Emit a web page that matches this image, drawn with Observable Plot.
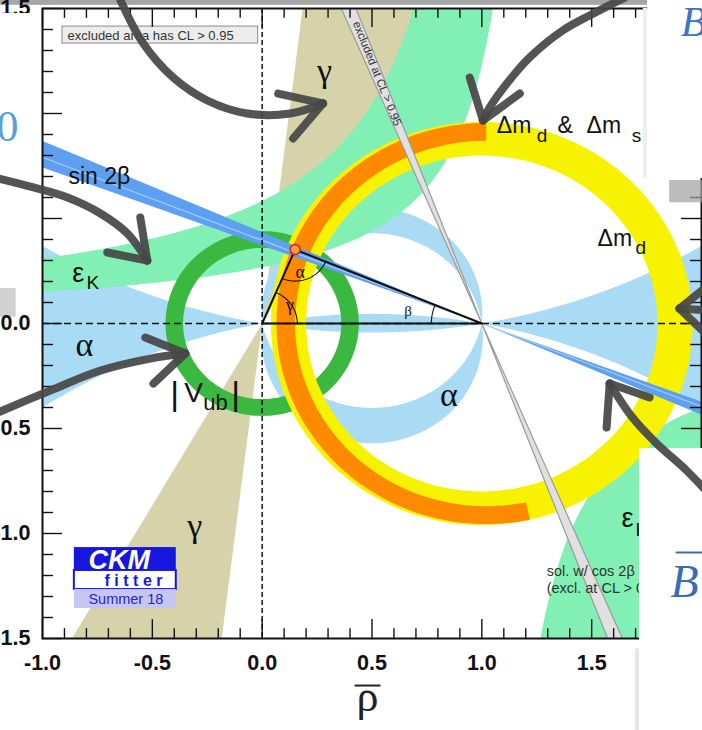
<!DOCTYPE html>
<html>
<head>
<meta charset="utf-8">
<script src="https://cdn.jsdelivr.net/npm/d3@7"></script>
<script src="https://cdn.jsdelivr.net/npm/@observablehq/plot@0.6"></script>
<style>
  body { margin: 0; background: #fff; }
  #chart { width: 702px; height: 730px; overflow: hidden; }
</style>
</head>
<body>
<div id="chart"></div>
<script>
// ---------- axes ----------
const xMajor = [-1.0, -0.5, 0.0, 0.5, 1.0, 1.5, 2.0];
const yMajor = [-1.5, -1.0, -0.5, 0.0, 0.5, 1.0, 1.5];
const xMinor = d3.range(-10, 21).map(i => i / 10).filter(v => !xMajor.includes(v));
const yMinor = d3.range(-15, 16).map(i => i / 10).filter(v => !yMajor.includes(v));

// ---------- unitarity triangle ----------
const apex = [0.15, 0.352];          // global fit (rho-bar, eta-bar)
const baseCorners = [[0, 0], [1, 0]];

// ---------- constraints (95% CL regions) ----------
const vubRing = {cx: 0, cy: 0, rIn: 0.36, rOut: 0.44};             // |Vub|
const dmdRing = {cx: 1.0, cy: 0, rIn: 0.80, rOut: 0.96};           // Δmd
const dmsArc = {cx: 1.02, cy: 0, rIn: 0.87, rOut: 0.955};          // Δmd & Δms
const dmsAngles = [90, 282];
const gammaDeg = [60, 83];                 // γ, double cone through the origin
const betaDeg = [20.4, 23.5];              // sin 2β, double cone through (1,0)
const betaMid = 21.6;
const betaAltDeg = [110.9, 113.1];         // cos 2β < 0 solution (excluded)
const alphaUpper = [0.048, -0.076];        // α: circles through (0,0),(1,0); centre height
const alphaLower = [-0.066, 0.11];
const alphaAxis = {above: 2.89, below: -2.7};
const epsKUpper = [{rho0: 1.278, k: 0.342}, {rho0: 1.13, k: 0.66}];  // εK: η(ρ0 − ρ) = k
const epsKLower = [{rho0: 1.0, k: 0.4}, {rho0: 1.0, k: 1.2}];

const colors = {
  gamma: "#d6d3aa", alpha: "#a9dbf5", epsK: "#82f0b5", vub: "#3bb83f",
  dmd: "#f7f300", dms: "#ff8a00", sin2b: "#5d9ff0", sin2bLine: "#a2ccfb",
  cos2b: "#e0e0e0", cos2bEdge: "#9a9a9a"
};

// ---------- labels ----------
const sansLabels = [
  {t: "sin 2β", x: -0.882, y: 0.662, s: 23, c: "#111"},
  {t: "Δm", x: 1.068, y: 0.905, s: 23, c: "#111"},
  {t: "d", x: 1.25, y: 0.862, s: 19, c: "#111"},
  {t: "&", x: 1.345, y: 0.905, s: 23, c: "#111"},
  {t: "Δm", x: 1.477, y: 0.905, s: 23, c: "#111"},
  {t: "s", x: 1.682, y: 0.862, s: 19, c: "#111"},
  {t: "Δm", x: 1.527, y: 0.367, s: 23, c: "#111"},
  {t: "d", x: 1.70, y: 0.329, s: 19, c: "#111"},
  {t: "ε", x: -0.864, y: 0.20, s: 27, c: "#111"},
  {t: "K", x: -0.80, y: 0.162, s: 19, c: "#111"},
  {t: "ε", x: 1.636, y: -0.971, s: 27, c: "#111"},
  {t: "K", x: 1.70, y: -1.01, s: 19, c: "#111"},
  {t: "|", x: -0.418, y: -0.39, s: 34, c: "#111"},
  {t: "V", x: -0.355, y: -0.376, s: 28, c: "#111"},
  {t: "ub", x: -0.268, y: -0.414, s: 22, c: "#111"},
  {t: "|", x: -0.141, y: -0.39, s: 34, c: "#111"},
  {t: "sol. w/ cos 2β < 0", x: 1.295, y: -1.2, s: 14.5, c: "#333"},
  {t: "(excl. at CL > 0.95)", x: 1.295, y: -1.281, s: 14.5, c: "#333"},
  {t: "excluded area has CL > 0.95", x: -0.886, y: 1.352, s: 13, c: "#333"}
];
const greekLabels = [
  {t: "γ", x: 0.25, y: 1.152}, {t: "γ", x: -0.341, y: -1.019},
  {t: "α", x: -0.85, y: -0.157}, {t: "α", x: 0.809, y: -0.395}
];
const angleLabels = [
  {t: "α", x: 0.173, y: 0.243, s: 18}, {t: "γ", x: 0.127, y: 0.086, s: 18},
  {t: "β", x: 0.664, y: 0.057, s: 15}
];
const legendBox = {x1: -0.909, x2: -0.018, y1: 1.333, y2: 1.414};
const bandNote = {t: "excluded at CL > 0.95", x: 0.523, y: 1.19};

// CKMfitter badge
const badge = {x1: -0.855, x2: -0.391, top: -1.067, mid1: -1.176, mid2: -1.267, bottom: -1.357};

// hand-drawn pointers and pasted sheets around the figure
const arrowShafts = [
  [[-0.655, 1.562], [-0.541, 1.333], [-0.405, 1.171], [-0.25, 1.062], [-0.068, 1.0], [0.127, 1.0], [0.277, 1.048]],
  [[1.65, 1.552], [1.491, 1.467], [1.368, 1.395], [1.218, 1.267], [1.114, 1.143], [1.036, 1.029], [1.005, 0.967]],
  [[-1.236, 0.70], [-1.041, 0.648], [-0.886, 0.60], [-0.736, 0.524], [-0.614, 0.429], [-0.523, 0.30]],
  [[-1.236, -0.438], [-0.964, -0.319], [-0.736, -0.224], [-0.509, -0.167], [-0.35, -0.143]],
  [[2.04, 0.062], [1.9, 0.071]],
  [[1.582, -0.286], [1.686, -0.448], [1.795, -0.571], [1.932, -0.70], [2.04, -0.819]]
];
const arrowBarbs = [
  [[0.073, 1.095], [0.277, 1.048]], [[0.141, 0.881], [0.277, 1.048]],
  [[0.945, 1.171], [1.005, 0.967]], [[1.173, 1.095], [1.005, 0.967]],
  [[-0.705, 0.338], [-0.523, 0.30]], [[-0.555, 0.505], [-0.523, 0.30]],
  [[-0.532, -0.067], [-0.35, -0.143]], [[-0.495, -0.286], [-0.35, -0.143]],
  [[2.014, 0.167], [1.9, 0.071]], [[2.014, -0.043], [1.9, 0.071]],
  [[1.568, -0.495], [1.582, -0.286]], [[1.764, -0.352], [1.582, -0.286]]
];
const sheets = [
  {x1: -1.25, x2: -1.014, y1: 0.167, y2: 1.476},
  {x1: 1.755, x2: 2.1, y1: 0.69, y2: 1.6},
  {x1: 1.718, x2: 2.1, y1: -2.0, y2: -0.595}
];
const shadows = [
  {x1: -1.25, x2: 1.755, y1: 1.515, y2: 1.6, c: "#4d4d4d", o: 0.5},
  {x1: 1.855, x2: 2.1, y1: 0.575, y2: 0.681, c: "#a0a0a0", o: 0.7},
  {x1: -1.25, x2: -1.12, y1: 0.03, y2: 0.167, c: "#c6c6c6", o: 0.8},
  {x1: 1.80, x2: 2.1, y1: -1.96, y2: -1.89, c: "#8a8a8a", o: 0.8},
  {x1: 1.70, x2: 1.718, y1: -2.0, y2: -1.55, c: "#dedede", o: 0.8},
  {x1: 1.735, x2: 1.755, y1: 0.69, y2: 1.5, c: "#efefef", o: 1}
];
const slideText = [
  {t: "0", x: -1.109, y: 0.871, s: 44, st: "normal", c: "#5b9fd6"},
  {t: "B", x: 1.905, y: 1.371, s: 42, st: "italic", c: "#3d74c4"},
  {t: "B", x: 1.859, y: -1.30, s: 46, st: "italic", c: "#3a6cb5"}
];
const overlines = [
  {x1: 0.423, x2: 0.541, y: -1.724, c: "#222"},
  {x1: 1.885, x2: 2.05, y: -1.09, c: "#3a6cb5"}
];

// ---------- geometry ----------
const toRad = Math.PI / 180;
function arc(cx, cy, r, a0, a1, n = 120) {
  return d3.range(n + 1).map(i => {
    const a = (a0 + (a1 - a0) * i / n) * toRad;
    return [cx + r * Math.cos(a), cy + r * Math.sin(a)];
  });
}
const ring = ({cx, cy, rIn, rOut}, a0 = 0, a1 = 360) =>
  [...arc(cx, cy, rOut, a0, a1, 180), ...arc(cx, cy, rIn, a1, a0, 180)];
const wedge = (cx, cy, a0, a1, R = 4) => [[cx, cy], ...arc(cx, cy, R, a0, a1, 24)];
const ray = (cx, cy, a, R = 4) => [[cx, cy], [cx + R * Math.cos(a * toRad), cy + R * Math.sin(a * toRad)]];

// circles through (0,0) and (1,0), centred at (0.5, c)
const chord = c => ({cx: 0.5, cy: c, r: Math.hypot(0.5, c)});
const ang = (C, [x, y]) => Math.atan2(y - C.cy, x - C.cx) / toRad;
const chordArc = (c, a0, a1) => { const C = chord(c); return arc(C.cx, C.cy, C.r, a0, a1, 200); };
function overArc(c) {            // (1,0) over the axis to (0,0)
  const C = chord(c); let a1 = ang(C, [1, 0]), a0 = ang(C, [0, 0]);
  if (a0 < a1) a0 += 360;
  return chordArc(c, a1, a0);
}
function underArc(c) {           // (0,0) under the axis to (1,0)
  const C = chord(c); let a0 = ang(C, [0, 0]), a1 = ang(C, [1, 0]);
  if (a1 < a0) a1 += 360;
  return chordArc(c, a0, a1);
}
// hyperbola η(ρ0 − ρ) = k, sampled evenly in log|η|
function hyper({rho0, k}, etaFrom, etaTo, n = 300) {
  return d3.range(n + 1).map(i => {
    const e = etaFrom * Math.pow(etaTo / etaFrom, i / n);
    return [rho0 - k / e, e];
  });
}
const upperBranch = (p) => hyper(p, p.k / (p.rho0 + 1.1), 1.62);
const lowerBranch = (p) => hyper(p, -p.k / (2.1 - p.rho0), -1.62);

const A = chord(alphaAxis.above), B = chord(alphaAxis.below);
const alphaShapes = [
  [...overArc(alphaUpper[0]), ...overArc(alphaUpper[1]).reverse()],
  [...underArc(alphaLower[0]), ...underArc(alphaLower[1]).reverse()],
  [...overArc(alphaAxis.below), ...underArc(alphaAxis.above)],
  [...chordArc(alphaAxis.above, ang(A, [0, 0]), ang(A, [0, 0]) - 30),
   ...chordArc(alphaAxis.below, ang(B, [0, 0]) + 30, ang(B, [0, 0]))],
  [...chordArc(alphaAxis.above, ang(A, [1, 0]), ang(A, [1, 0]) + 32),
   ...chordArc(alphaAxis.below, ang(B, [1, 0]) - 32, ang(B, [1, 0]))]
];
const epsShapes = [
  [...upperBranch(epsKUpper[0]), ...upperBranch(epsKUpper[1]).reverse()],
  [...lowerBranch(epsKLower[0]), ...lowerBranch(epsKLower[1]).reverse()]
];
const gammaShapes = [
  wedge(0, 0, gammaDeg[0], gammaDeg[1]),
  wedge(0, 0, 180 + gammaDeg[0], 180 + gammaDeg[1])
];
const sin2bShapes = [
  wedge(1, 0, 180 - betaDeg[1], 180 - betaDeg[0]),
  wedge(1, 0, -betaDeg[1], -betaDeg[0])
];
const cos2bShapes = [
  wedge(1, 0, betaAltDeg[0], betaAltDeg[1]),
  wedge(1, 0, betaAltDeg[0] - 180, betaAltDeg[1] - 180)
];

const toRows = shapes => shapes.flatMap((pts, id) => pts.map(([x, y]) => ({x, y, id})));
const region = (shapes, fill, extra = {}) => Plot.line(toRows(shapes), {
  x: "x", y: "y", z: "id", fill, stroke: "none", curve: "linear-closed", clip: true, ...extra
});
const polyline = (shapes, stroke, width, extra = {}) => Plot.line(toRows(shapes), {
  x: "x", y: "y", z: "id", stroke, strokeWidth: width, clip: true, ...extra
});

// triangle angle markers
const dirTo = (p, q) => Math.atan2(q[1] - p[1], q[0] - p[0]) / toRad;
const angleArcs = [
  arc(apex[0], apex[1], 0.15, dirTo(apex, [0, 0]), dirTo(apex, [1, 0]), 40),
  arc(0, 0, 0.16, 0, dirTo([0, 0], apex), 40),
  arc(1, 0, 0.23, dirTo([1, 0], apex), 180, 20)
];

const sans = "Liberation Sans, Arial, Helvetica, sans-serif";
const serif = "Liberation Serif, Times New Roman, serif";

const tickStyle = {stroke: "#111", strokeWidth: 1.4};
const chart = Plot.plot({
  width: 702, height: 730,
  marginLeft: 42, marginRight: 1, marginTop: 8, marginBottom: 92,
  x: {domain: [-1, 2], axis: null},
  y: {domain: [-1.5, 1.5], axis: null},
  style: {background: "#fff"},
  marks: [
    region(gammaShapes, colors.gamma),
    region(alphaShapes, colors.alpha),
    region(epsShapes, colors.epsK),
    region([ring(vubRing)], colors.vub),
    region([ring(dmdRing)], colors.dmd),
    region([ring(dmsArc, dmsAngles[0], dmsAngles[1])], colors.dms),
    region(sin2bShapes, colors.sin2b),
    polyline([ray(1, 0, 180 - betaMid), ray(1, 0, -betaMid)], colors.sin2bLine, 1.2),
    region(cos2bShapes, colors.cos2b, {stroke: colors.cos2bEdge, strokeWidth: 1.2}),
    Plot.text([bandNote], {x: "x", y: "y", text: "t", rotate: 68, fontSize: 11.5,
      fontFamily: sans, fill: "#333"}),

    // reference axes
    Plot.ruleX([0], {stroke: "#111", strokeWidth: 1.5, strokeDasharray: "5,3"}),
    Plot.ruleY([0], {stroke: "#111", strokeWidth: 1.5, strokeDasharray: "7,4"}),

    // unitarity triangle
    Plot.line([baseCorners[0], apex, baseCorners[1], baseCorners[0]], {stroke: "#111", strokeWidth: 2}),
    polyline(angleArcs, "#111", 1.1),
    Plot.dot([apex], {x: d => d[0], y: d => d[1], r: 5, fill: "#ff9a3a", stroke: "#d42010", strokeWidth: 1.5}),
    Plot.text(angleLabels, {x: "x", y: "y", text: "t", fontSize: "s", fontFamily: serif, fill: "#111"}),

    // legend box
    Plot.rect([legendBox], {x1: "x1", x2: "x2", y1: "y1", y2: "y2", fill: "#ececec", stroke: "#8a8a8a", strokeWidth: 1}),

    // labels
    Plot.text(sansLabels, {x: "x", y: "y", text: "t", fontSize: "s", fill: "c",
      textAnchor: "start", lineAnchor: "bottom", fontFamily: sans}),
    Plot.text(greekLabels, {x: "x", y: "y", text: "t", fontSize: 34, fill: "#111",
      textAnchor: "start", lineAnchor: "bottom", fontFamily: serif}),

    // badge
    Plot.rect([badge], {x1: "x1", x2: "x2", y1: "mid1", y2: "top", fill: "#1616de"}),
    Plot.rect([badge], {x1: "x1", x2: "x2", y1: "mid2", y2: "mid1", fill: "#fff", stroke: "#1616de", strokeWidth: 2}),
    Plot.rect([badge], {x1: "x1", x2: "x2", y1: "bottom", y2: "mid2", fill: "#c6c6f2"}),
    Plot.text([{t: "CKM", x: -0.791, y: -1.171}], {x: "x", y: "y", text: "t", fontSize: 27,
      fontWeight: "bold", fontStyle: "italic", fill: "#fff", textAnchor: "start", lineAnchor: "bottom", fontFamily: sans}),
    Plot.text([{t: "fitter", x: -0.718, y: -1.252}], {x: "x", y: "y", text: "t", fontSize: 16,
      fontWeight: "bold", fill: "#1616de", textAnchor: "start", lineAnchor: "bottom", fontFamily: sans}),
    Plot.text([{t: "Summer 18", x: -0.791, y: -1.338}], {x: "x", y: "y", text: "t", fontSize: 14.5,
      fill: "#2626c6", textAnchor: "start", lineAnchor: "bottom", fontFamily: sans}),

    // frame and inward ticks
    Plot.ruleX(xMajor, {x: d => d, y1: -1.5, y2: -1.41, ...tickStyle}),
    Plot.ruleX(xMinor, {x: d => d, y1: -1.5, y2: -1.453, ...tickStyle}),
    Plot.ruleX(xMajor, {x: d => d, y1: 1.5, y2: 1.41, ...tickStyle}),
    Plot.ruleX(xMinor, {x: d => d, y1: 1.5, y2: 1.453, ...tickStyle}),
    Plot.ruleY(yMajor, {y: d => d, x1: -1, x2: -0.909, ...tickStyle}),
    Plot.ruleY(yMinor, {y: d => d, x1: -1, x2: -0.95, ...tickStyle}),
    Plot.ruleY(yMajor, {y: d => d, x1: 2, x2: 1.909, ...tickStyle}),
    Plot.ruleY(yMinor, {y: d => d, x1: 2, x2: 1.95, ...tickStyle}),
    Plot.frame({stroke: "#111", strokeWidth: 2}),

    // shadows of the pasted sheets (under the tick labels)
    Plot.rect(shadows, {x1: "x1", x2: "x2", y1: "y1", y2: "y2", fill: "c", fillOpacity: "o"}),

    // tick labels
    Plot.text(xMajor, {x: d => d, y: -1.5, dy: 31, text: d => d.toFixed(1), lineAnchor: "bottom",
      fontSize: 21.5, fontWeight: "bold", fontFamily: sans, fill: "#111"}),
    Plot.text(yMajor, {x: -1, y: d => d, dx: -12, text: d => d.toFixed(1), textAnchor: "end",
      fontSize: 21.5, fontWeight: "bold", fontFamily: sans, fill: "#111"}),
    Plot.text([{t: "ρ", x: 0.48, y: -1.843}], {x: "x", y: "y", text: "t", fontSize: 44,
      lineAnchor: "bottom", fontFamily: serif, fill: "#222"}),

    // pasted sheets with slide text
    Plot.rect(sheets, {x1: "x1", x2: "x2", y1: "y1", y2: "y2", fill: "#fff"}),
    Plot.text(slideText, {x: "x", y: "y", text: "t", fontSize: "s", fill: "c", textAnchor: "start",
      lineAnchor: "bottom", fontFamily: serif, fontStyle: "italic", filter: d => d.st === "italic"}),
    Plot.text(slideText, {x: "x", y: "y", text: "t", fontSize: "s", fill: "c", textAnchor: "end",
      lineAnchor: "bottom", fontFamily: serif, filter: d => d.st !== "italic"}),
    Plot.ruleY(overlines, {y: "y", x1: "x1", x2: "x2", stroke: "c", strokeWidth: 2}),

    // hand-drawn pointers
    Plot.line(toRows(arrowShafts), {x: "x", y: "y", z: "id", curve: "catmull-rom",
      stroke: "#474747", strokeWidth: 8, strokeOpacity: 0.93}),
    Plot.line(toRows(arrowBarbs), {x: "x", y: "y", z: "id",
      stroke: "#474747", strokeWidth: 8, strokeOpacity: 0.93})
  ]
});

d3.select(chart).selectAll("text")
  .filter(function () { return this.textContent === "fitter"; })
  .attr("letter-spacing", "4.5px");

document.getElementById("chart").append(chart);
</script>
</body>
</html>
